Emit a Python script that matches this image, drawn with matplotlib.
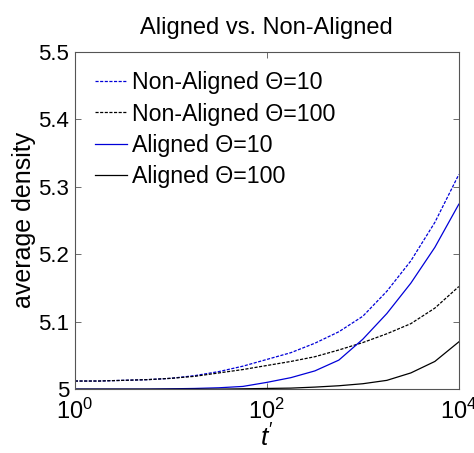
import numpy as np
import matplotlib
matplotlib.use("Agg")
import matplotlib.pyplot as plt
from matplotlib.ticker import FixedLocator, NullLocator

plt.rcParams['font.family'] = ['Liberation Sans', 'DejaVu Sans']
plt.rcParams['mathtext.fontset'] = 'custom'
plt.rcParams['mathtext.rm'] = 'Liberation Sans'
plt.rcParams['mathtext.it'] = 'Liberation Sans:italic'

# log10(t') sample positions
log_t = [0, 0.25, 0.5, 0.75, 1.0, 1.25, 1.5, 1.75, 2.0, 2.25, 2.5, 2.75, 3.0, 3.25, 3.5, 3.75, 4.0]
t_vals = [10 ** v for v in log_t]

non_aligned_10 = [5.012, 5.012, 5.013, 5.014, 5.016, 5.020, 5.026, 5.034, 5.044, 5.054, 5.068, 5.085,
                  5.108, 5.145, 5.190, 5.247, 5.318]
non_aligned_100 = [5.012, 5.012, 5.013, 5.014, 5.016, 5.019, 5.024, 5.029, 5.035, 5.041, 5.048, 5.058,
                   5.069, 5.082, 5.097, 5.120, 5.152]
aligned_10 = [5.000, 5.000, 5.000, 5.000, 5.0005, 5.001, 5.002, 5.004, 5.010, 5.017, 5.027, 5.043,
              5.074, 5.112, 5.157, 5.210, 5.274]
aligned_100 = [5.000, 5.000, 5.000, 5.000, 5.000, 5.000, 5.000, 5.0005, 5.001, 5.0015, 5.003, 5.005,
               5.008, 5.013, 5.024, 5.041, 5.070]

labels = ['Non-Aligned \u0398=10', 'Non-Aligned \u0398=100', 'Aligned \u0398=10', 'Aligned \u0398=100']
y_ticks = [5.0, 5.1, 5.2, 5.3, 5.4, 5.5]
y_tick_labels = ['5', '5.1', '5.2', '5.3', '5.4', '5.5']
x_ticks = [1, 100, 10000]
x_tick_labels = [r'$10^{0}$', r'$10^{2}$', r'$10^{4}$']

fig = plt.figure(figsize=(4.74, 4.53), dpi=100)
ax = fig.add_axes([0.158, 0.141, 0.810, 0.745])

blue = '#0000d8'
ax.plot(t_vals, non_aligned_10, color=blue, lw=0.9, ls=(0, (2.5, 1.2)), label=labels[0])
ax.plot(t_vals, non_aligned_100, color='black', lw=0.9, ls=(0, (2.5, 1.2)), label=labels[1])
ax.plot(t_vals, aligned_10, color=blue, lw=0.9, label=labels[2])
ax.plot(t_vals, aligned_100, color='black', lw=0.9, label=labels[3])

ax.set_xscale('log')
ax.set_xlim(1, 10000)
ax.set_ylim(5.0, 5.5)
ax.xaxis.set_major_locator(FixedLocator(x_ticks))
ax.xaxis.set_minor_locator(NullLocator())
ax.set_xticklabels(x_tick_labels)
ax.set_yticks(y_ticks)
ax.set_yticklabels(y_tick_labels)
ax.tick_params(direction='in', top=True, right=True, length=4, width=0.6,
               color='#555555', labelsize=16)
ax.tick_params(axis='y', pad=4)
ax.tick_params(axis='x', labelsize=17, pad=7)
for s in ax.spines.values():
    s.set_color('#555555')
    s.set_linewidth(0.8)

ax.set_title('Aligned vs. Non-Aligned', fontsize=17, pad=13)
ax.set_ylabel('average density', fontsize=18, labelpad=2)
ax.set_xlabel(r"$t'$", fontsize=19, labelpad=0)

leg = ax.legend(loc='upper left', frameon=False, fontsize=16.7, handlelength=1.4,
                handletextpad=0.2, labelspacing=0.36, borderaxespad=0.3,
                bbox_to_anchor=(0.01, 0.99))

fig.savefig('out.png', dpi=100)
